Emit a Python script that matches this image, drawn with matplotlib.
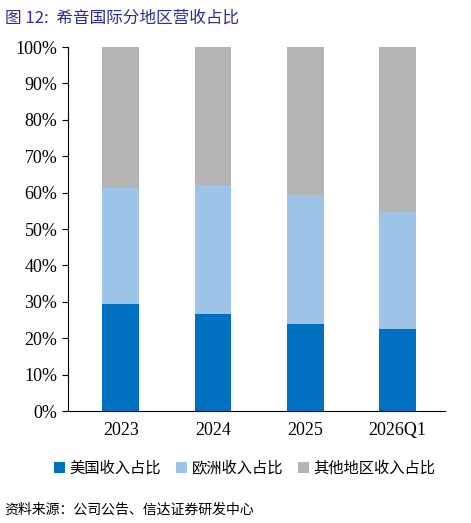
import matplotlib
matplotlib.use("Agg")
import matplotlib.pyplot as plt
from matplotlib.ticker import FuncFormatter

categories = ["2023", "2024", "2025", "2026Q1"]
us = [29.4, 26.6, 23.9, 22.5]
eu = [31.9, 35.5, 35.4, 32.2]
other = [38.7, 37.9, 40.7, 45.3]

cjk = ['Noto Sans CJK SC', 'DejaVu Sans']
serif = ['Liberation Serif', 'DejaVu Serif']

fig = plt.figure(figsize=(4.71, 5.23), dpi=100)
ax = fig.add_axes([0.144, 0.214, 0.80, 0.696])
x = range(len(categories))
w = 0.4
ax.bar(x, us, w, color='#0070C0', label='美国收入占比')
ax.bar(x, eu, w, bottom=us, color='#9DC3E6', label='欧洲收入占比')
b2 = [a + b for a, b in zip(us, eu)]
ax.bar(x, other, w, bottom=b2, color='#B4B4B4', label='其他地区收入占比')
ax.set_ylim(0, 100)
ax.set_xlim(-0.574, 3.51)
ax.set_yticks(range(0, 101, 10))
ax.yaxis.set_major_formatter(FuncFormatter(lambda v, p: f"{int(v)}%"))
ax.set_xticks(list(x))
ax.set_xticklabels(categories)
for lab in ax.get_xticklabels() + ax.get_yticklabels():
    lab.set_fontfamily(serif)
    lab.set_fontsize(13)
for s in ['top', 'right']:
    ax.spines[s].set_visible(False)
ax.tick_params(axis='x', length=0, pad=8)
ax.tick_params(axis='y', direction='out', length=4)

fig.text(0.01, 0.965, "图 12:  希音国际分地区营收占比", color='#2B2F8F', fontsize=12,
         family=cjk, va='center')
fig.legend(loc='center', bbox_to_anchor=(0.52, 0.105), ncol=3, frameon=False,
           prop={'family': cjk, 'size': 11}, handlelength=0.7, handleheight=0.7,
           columnspacing=1.0, handletextpad=0.3)
fig.text(0.01, 0.025, "资料来源：公司公告、信达证券研发中心", fontsize=10, family=cjk,
         va='center', style='italic')
fig.savefig("out.png", dpi=100)
